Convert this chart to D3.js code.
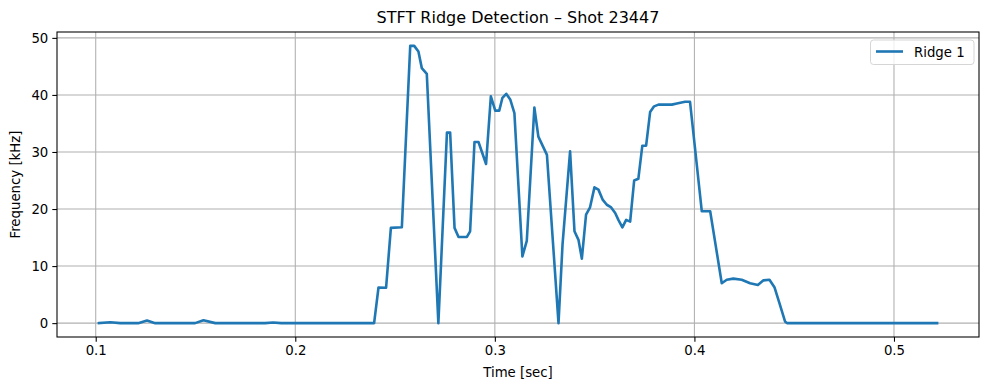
<!DOCTYPE html>
<html>
<head>
<meta charset="utf-8">
<script src="https://cdn.jsdelivr.net/npm/d3@7"></script>
<style>
  html, body { margin: 0; padding: 0; background: #fff; }
  svg { display: block; font-family: "DejaVu Sans", sans-serif; }
</style>
</head>
<body>
<svg id="chart" width="989" height="390"></svg>
<script>
const title = "STFT Ridge Detection – Shot 23447";
const xLabel = "Time [sec]";
const yLabel = "Frequency [kHz]";
const seriesName = "Ridge 1";
const xTicks = [0.1, 0.2, 0.3, 0.4, 0.5];
const yTicks = [0, 10, 20, 30, 40, 50];

const timeSec = [
  0.1016, 0.1073, 0.1123, 0.1213, 0.1257, 0.1298, 0.1498, 0.1540, 0.1599, 0.1849,
  0.1889, 0.1929, 0.2395, 0.2417, 0.2455, 0.2479, 0.2534, 0.2576, 0.2596, 0.2617,
  0.2634, 0.2659, 0.2717, 0.2760, 0.2776, 0.2798, 0.2818, 0.2860, 0.2876, 0.2898,
  0.2918, 0.2956, 0.2980, 0.3002, 0.3022, 0.3038, 0.3057, 0.3077, 0.3098, 0.3138,
  0.3160, 0.3198, 0.3218, 0.3261, 0.3319, 0.3339, 0.3377, 0.3399, 0.3419, 0.3436,
  0.3457, 0.3477, 0.3499, 0.3519, 0.3541, 0.3561, 0.3581, 0.3603, 0.3619, 0.3639,
  0.3658, 0.3678, 0.3698, 0.3719, 0.3739, 0.3758, 0.3778, 0.3798, 0.3820, 0.3887,
  0.3912, 0.3953, 0.3978, 0.4037, 0.4079, 0.4137, 0.4162, 0.4195, 0.4237, 0.4279,
  0.4318, 0.4346, 0.4376, 0.4401, 0.4426, 0.4454, 0.4464, 0.5216
];
const freqKHz = [
  0.0, 0.15, 0.0, 0.0, 0.45, 0.0, 0.0, 0.5, 0.0, 0.0,
  0.1, 0.0, 0.0, 6.25, 6.2, 16.7, 16.8, 48.6, 48.6, 47.6,
  44.7, 43.7, 0.0, 33.4, 33.4, 16.7, 15.1, 15.1, 16.1, 31.75,
  31.75, 27.9, 39.75, 37.25, 37.25, 39.5, 40.2, 39.2, 36.8, 11.7,
  14.4, 37.8, 32.7, 29.5, 0.0, 13.7, 30.1, 16.1, 14.6, 11.3,
  19.0, 20.3, 23.8, 23.4, 21.6, 20.75, 20.35, 19.3, 18.1, 16.8,
  18.1, 17.8, 25.0, 25.3, 31.1, 31.1, 37.0, 38.0, 38.3, 38.3,
  38.5, 38.8, 38.8, 19.6, 19.6, 7.0, 7.6, 7.8, 7.6, 7.0,
  6.7, 7.5, 7.6, 6.3, 3.5, 0.3, 0.0, 0.0
];

const data = timeSec.map((t, i) => ({ t, f: freqKHz[i] }));

const svg = d3.select("#chart");
const m = { left: 57, right: 979, top: 32, bottom: 337 };

const xExt = d3.extent(timeSec), xPad = (xExt[1] - xExt[0]) * 0.05;
const yExt = d3.extent(freqKHz), yPad = (yExt[1] - yExt[0]) * 0.05;

const x = d3.scaleLinear().domain([xExt[0] - xPad, xExt[1] + xPad]).range([m.left, m.right]);
const y = d3.scaleLinear().domain([yExt[0] - yPad, yExt[1] + yPad]).range([m.bottom, m.top]);

// grid
const grid = svg.append("g");
grid.selectAll(".gx").data(xTicks).join("line")
  .attr("x1", d => x(d)).attr("x2", d => x(d))
  .attr("y1", m.top).attr("y2", m.bottom)
  .attr("stroke", "#b0b0b0").attr("stroke-width", 1.07);
grid.selectAll(".gy").data(yTicks).join("line")
  .attr("x1", m.left).attr("x2", m.right)
  .attr("y1", d => y(d)).attr("y2", d => y(d))
  .attr("stroke", "#b0b0b0").attr("stroke-width", 1.07);

// line
const line = d3.line().x(d => x(d.t)).y(d => y(d.f));
svg.append("path").datum(data)
  .attr("d", line)
  .attr("fill", "none")
  .attr("stroke", "#1f77b4")
  .attr("stroke-width", 2.6)
  .attr("stroke-linejoin", "round")
  .attr("stroke-linecap", "square");

// axes
const xAxis = d3.axisBottom(x).tickValues(xTicks).tickFormat(d3.format(".1f")).tickSizeOuter(0).tickSize(4.7).tickPadding(4);
const yAxis = d3.axisLeft(y).tickValues(yTicks).tickFormat(d3.format("d")).tickSizeOuter(0).tickSize(4.7).tickPadding(4);

const gx = svg.append("g").attr("transform", `translate(0,${m.bottom})`).call(xAxis);
const gy = svg.append("g").attr("transform", `translate(${m.left},0)`).call(yAxis);
[gx, gy].forEach(g => {
  g.select(".domain").remove();
  g.selectAll(".tick line").attr("stroke", "#000").attr("stroke-width", 1.07);
  g.selectAll(".tick text").attr("fill", "#000").attr("font-size", "13.3px").attr("font-family", "DejaVu Sans, sans-serif");
});

// frame
svg.append("rect")
  .attr("x", m.left).attr("y", m.top)
  .attr("width", m.right - m.left).attr("height", m.bottom - m.top)
  .attr("fill", "none").attr("stroke", "#000").attr("stroke-width", 1.07);

// title and labels
svg.append("text").attr("x", (m.left + m.right) / 2).attr("y", 23)
  .attr("text-anchor", "middle").attr("font-size", "16px").attr("fill", "#000").text(title);
svg.append("text").attr("x", (m.left + m.right) / 2).attr("y", 377)
  .attr("text-anchor", "middle").attr("font-size", "13.3px").attr("fill", "#000").text(xLabel);
svg.append("text")
  .attr("transform", `translate(20,${(m.top + m.bottom) / 2}) rotate(-90)`)
  .attr("text-anchor", "middle").attr("font-size", "13.3px").attr("fill", "#000").text(yLabel);

// legend
const lg = svg.append("g");
lg.append("rect").attr("x", 870.5).attr("y", 40).attr("width", 103.5).attr("height", 24.5)
  .attr("rx", 3).attr("fill", "#fff").attr("fill-opacity", 0.8)
  .attr("stroke", "#d5d5d5").attr("stroke-width", 1);
lg.append("line").attr("x1", 876).attr("x2", 903).attr("y1", 51.5).attr("y2", 51.5)
  .attr("stroke", "#1f77b4").attr("stroke-width", 2.6);
lg.append("text").attr("x", 914).attr("y", 56.5).attr("font-size", "13.3px").attr("fill", "#000").text(seriesName);
</script>
</body>
</html>
